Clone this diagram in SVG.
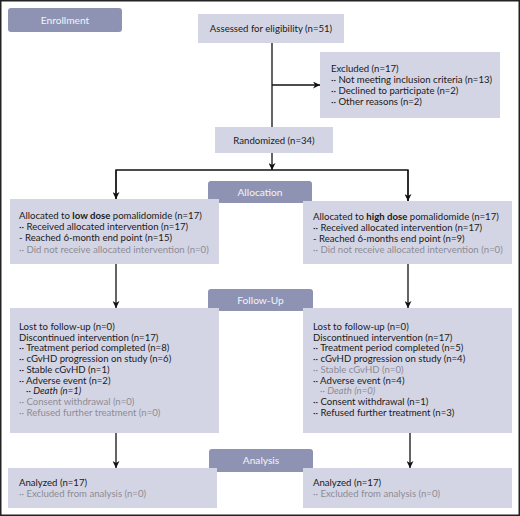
<svg xmlns="http://www.w3.org/2000/svg" width="520" height="516" viewBox="0 0 520 516">
<defs>
<marker id="ah" viewBox="0 0 10 10" refX="10" refY="5" markerWidth="7" markerHeight="7" markerUnits="userSpaceOnUse" orient="auto">
<path d="M0,0 L10,5 L0,10 L3,5 z" fill="#111"/>
</marker>
<style>
text{font-family:Lato,"Open Sans","Noto Sans",sans-serif;font-size:9.6px;fill:#1a1a1a}
.box{fill:#d4d5e4}
.lab{fill:#8e93b4}
.labt{fill:#f2f3f8;text-anchor:middle;font-size:10.2px}
.g{fill:#8c8c96}
.c{text-anchor:middle}
.ln{stroke:#111;stroke-width:1.3;fill:none}
</style>
</defs>
<rect x="0.75" y="0.75" width="518.5" height="514.5" fill="#fff" stroke="#222" stroke-width="1.5"/>
<g id="connectors">
<line class="ln" x1="272" y1="43" x2="272" y2="127"/>
<line class="ln" x1="272" y1="85" x2="320" y2="85" marker-end="url(#ah)"/>
<line class="ln" x1="272" y1="153" x2="272" y2="170" marker-end="url(#ah)"/>
<polyline class="ln" points="116,199 116,170 408,170 408,201"/>
<line class="ln" x1="116" y1="170" x2="116" y2="199" marker-end="url(#ah)"/>
<line class="ln" x1="408" y1="170" x2="408" y2="201" marker-end="url(#ah)"/>
<line class="ln" x1="116" y1="264" x2="116" y2="308" marker-end="url(#ah)"/>
<line class="ln" x1="408" y1="264" x2="408" y2="308" marker-end="url(#ah)"/>
<line class="ln" x1="116" y1="433" x2="116" y2="468" marker-end="url(#ah)"/>
<line class="ln" x1="410" y1="433" x2="410" y2="468" marker-end="url(#ah)"/>
</g>
<g id="enrollment-label">
<rect class="lab" x="8" y="8" width="114" height="24" rx="3"/>
<text class="labt" x="65" y="23.5">Enrollment</text>
</g>
<g id="assessed">
<rect class="box" x="198" y="14" width="146" height="29"/>
<text class="c" x="271" y="32">Assessed for eligibility (n=51)</text>
</g>
<g id="excluded">
<rect class="box" x="320" y="52" width="180" height="66"/>
<text x="331" y="72">Excluded (n=17)</text>
<text x="331" y="83">·· Not meeting inclusion criteria (n=13)</text>
<text x="331" y="94">·· Declined to participate (n=2)</text>
<text x="331" y="105">·· Other reasons (n=2)</text>
</g>
<g id="randomized">
<rect class="box" x="215" y="127" width="118" height="26"/>
<text class="c" x="274" y="143.5">Randomized (n=34)</text>
</g>
<g id="allocation-label">
<rect class="lab" x="208" y="181" width="104" height="22" rx="3"/>
<text class="labt" x="260" y="195.5">Allocation</text>
</g>
<g id="low-dose">
<rect class="box" x="10" y="199" width="209" height="65"/>
<text x="19" y="218.5">Allocated to <tspan font-weight="bold">low dose</tspan> pomalidomide (n=17)</text>
<text x="19" y="229.5">·· Received allocated intervention (n=17)</text>
<text x="19" y="241">-  Reached 6-month end point (n=15)</text>
<text class="g" x="19" y="252.5">·· Did not receive allocated intervention (n=0)</text>
</g>
<g id="high-dose">
<rect class="box" x="303" y="201" width="209" height="63"/>
<text x="313" y="219.5">Allocated to <tspan font-weight="bold">high dose</tspan> pomalidomide (n=17)</text>
<text x="313" y="230.5">·· Received allocated intervention (n=17)</text>
<text x="313" y="242">-  Reached 6-months end point (n=9)</text>
<text class="g" x="313" y="253">·· Did not receive allocated intervention (n=0)</text>
</g>
<g id="followup-label">
<rect class="lab" x="208" y="289" width="105" height="22" rx="3"/>
<text class="labt" x="260.5" y="303.5">Follow-Up</text>
</g>
<g id="followup-low">
<rect class="box" x="10" y="308" width="209" height="125"/>
<text x="19" y="330">Lost to follow-up (n=0)</text>
<text x="19" y="340.7">Discontinued intervention (n=17)</text>
<text x="19" y="351.4">·· Treatment period completed (n=8)</text>
<text x="19" y="362.1">·· cGvHD progression on study (n=6)</text>
<text x="19" y="372.8">·· Stable cGvHD (n=1)</text>
<text x="19" y="383.5">·· Adverse event (n=2)</text>
<text x="26" y="394.2" font-style="italic">·· Death (n=1)</text>
<text class="g" x="19" y="404.9">·· Consent withdrawal (n=0)</text>
<text class="g" x="19" y="415.6">·· Refused further treatment (n=0)</text>
</g>
<g id="followup-high">
<rect class="box" x="303" y="308" width="209" height="125"/>
<text x="313" y="330">Lost to follow-up (n=0)</text>
<text x="313" y="340.7">Discontinued intervention (n=17)</text>
<text x="313" y="351.4">·· Treatment period completed (n=5)</text>
<text x="313" y="362.1">·· cGvHD progression on study (n=4)</text>
<text class="g" x="313" y="372.8">·· Stable cGvHD (n=0)</text>
<text x="313" y="383.5">·· Adverse event (n=4)</text>
<text class="g" x="320" y="394.2" font-style="italic">·· Death (n=0)</text>
<text x="313" y="404.9">·· Consent withdrawal (n=1)</text>
<text x="313" y="415.6">·· Refused further treatment (n=3)</text>
</g>
<g id="analysis-label">
<rect class="lab" x="209" y="449" width="104" height="23" rx="3"/>
<text class="labt" x="261" y="464">Analysis</text>
</g>
<g id="analysis-low">
<rect class="box" x="8" y="468" width="209" height="40"/>
<text x="19" y="486">Analyzed (n=17)</text>
<text class="g" x="19" y="497">·· Excluded from analysis (n=0)</text>
</g>
<g id="analysis-high">
<rect class="box" x="303" y="468" width="209" height="40"/>
<text x="313" y="486">Analyzed (n=17)</text>
<text class="g" x="313" y="497">·· Excluded from analysis (n=0)</text>
</g>
</svg>
